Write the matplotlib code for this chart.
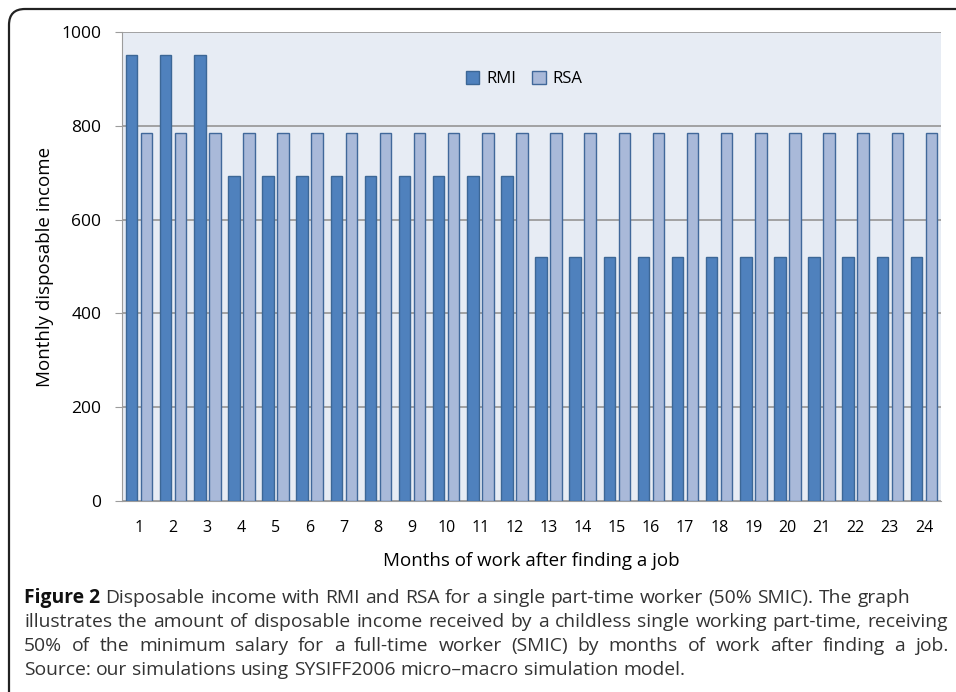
import matplotlib.pyplot as plt
import numpy as np
from matplotlib.patches import FancyBboxPatch
from matplotlib.transforms import IdentityTransform

# Data
months = list(range(1, 25))
rmi = [950, 950, 950] + [693] * 9 + [520] * 12
rsa = [785] * 24
series_names = ["RMI", "RSA"]

caption_lines = [
    ("Figure 2", "Disposable income with RMI and RSA for a single part-time worker (50% SMIC). The graph"),
    (None, "illustrates the amount of disposable income received by a childless single working part-time, receiving"),
    (None, "50% of the minimum salary for a full-time worker (SMIC) by months of work after finding a job."),
    (None, "Source: our simulations using SYSIFF2006 micro\u2013macro simulation model."),
]

plt.rcParams['font.family'] = ['Open Sans', 'DejaVu Sans']

fig = plt.figure(figsize=(9.56, 6.92), dpi=100)
ax = fig.add_axes([122 / 956, 1 - 501 / 692, 819 / 956, 469 / 692])

x = np.arange(len(months))
w = 0.34
ax.bar(x - 0.22, rmi, w, color='#4F81BD', edgecolor='#3C6796', linewidth=1.0,
       label=series_names[0], zorder=3)
ax.bar(x + 0.22, rsa, w, color='#A9B9D9', edgecolor='#41689A', linewidth=1.0,
       label=series_names[1], zorder=3)

ax.set_xlim(-0.5, len(months) - 0.5)
ax.set_ylim(0, 1000)
ax.set_yticks(range(0, 1001, 200))
ax.set_xticks(x)
ax.set_xticklabels([str(m) for m in months])
ax.set_facecolor('#E7ECF4')
ax.grid(axis='y', color='#9C9C9C', linewidth=1.3, zorder=1)
for s in ['top', 'right']:
    ax.spines[s].set_visible(False)
ax.spines['left'].set_color('#9C9C9C')
ax.spines['bottom'].set_color('#9C9C9C')
ax.tick_params(axis='y', length=5, color='#9C9C9C', labelsize=12.5, pad=10)
ax.tick_params(axis='x', length=0, labelsize=11.5, pad=14)

ax.set_ylabel("Monthly disposable income", fontsize=13.5, labelpad=5)
ax.set_xlabel("Months of work after finding a job", fontsize=13.5, labelpad=11)

ax.legend(loc='center', bbox_to_anchor=(0.491, 0.90), ncol=2, frameon=False,
          fontsize=12, handlelength=0.8, handleheight=0.8, columnspacing=1.0,
          handletextpad=0.4)

# rounded frame around the figure panel
frame = FancyBboxPatch((9, -40), 1000, 692 - 9 + 40,
                       boxstyle="round,pad=0,rounding_size=16",
                       transform=IdentityTransform(), facecolor='none',
                       edgecolor='#222222', linewidth=1.6)
fig.patches.append(frame)

# justified caption
renderer = fig.canvas.get_renderer()
left_px = 24
rights = [910, 948, 948, None]
ys = [598, 622, 646, 670]
cap_size = 13.9
probe1 = fig.text(0, 0, "a a", fontsize=cap_size)
probe2 = fig.text(0, 0, "aa", fontsize=cap_size)
sp = probe1.get_window_extent(renderer).width - probe2.get_window_extent(renderer).width
probe1.remove()
probe2.remove()
for (bold, line), right, ypx in zip(caption_lines, rights, ys):
    words = []
    if bold:
        words.append((bold, 'bold'))
    words += [(wd, 'normal') for wd in line.split(' ')]
    yf = 1 - ypx / 692
    texts = []
    for wd, weight in words:
        t = fig.text(0, yf, wd, fontsize=cap_size, fontweight=weight,
                     color='#333333' if weight == 'normal' else '#111111',
                     va='center', ha='left')
        texts.append(t)
    widths = [t.get_window_extent(renderer).width for t in texts]
    if right is not None:
        gap = (right - left_px - sum(widths)) / (len(texts) - 1)
    else:
        gap = sp
    xp = left_px
    for t, wdt in zip(texts, widths):
        t.set_x(xp / 956)
        xp += wdt + gap

fig.savefig("out.png", dpi=100)
